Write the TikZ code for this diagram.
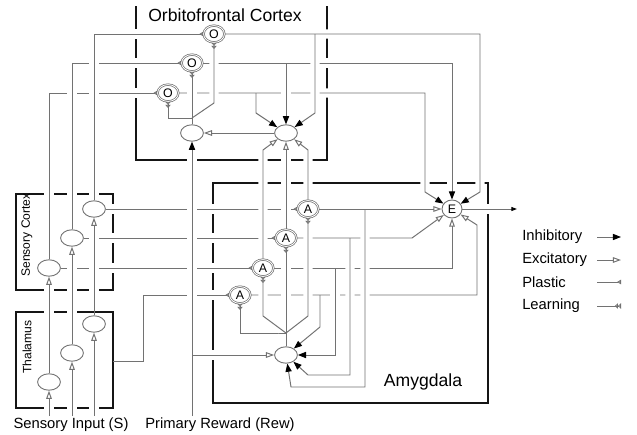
\documentclass[tikz,border=0pt]{standalone}
\usepackage{fontspec}
\setmainfont{Liberation Sans}
\usetikzlibrary{
  positioning,
  arrows.meta,
  shapes.geometric,
  backgrounds
}
\pgfdeclarelayer{wires}
\pgfsetlayers{background,wires,main}
\definecolor{wireGray}{HTML}{727272}
\definecolor{boxBlack}{HTML}{151515}

\begin{document}
\begin{tikzpicture}[
  x=0.025cm, y=-0.025cm,
  every node/.style={font=\fontsize{8.6}{10}\selectfont, align=center, inner sep=0pt},
  neuron/.style={
    ellipse, draw=wireGray, fill=white, line width=0.65pt,
    minimum width=0.57cm, minimum height=0.41cm
  },
  unit/.style={
    ellipse, draw=wireGray, fill=white, double, double distance=0.6pt,
    line width=0.5pt, minimum width=0.52cm, minimum height=0.42cm,
    font=\fontsize{8.8}{9}\selectfont
  },
  outunit/.style={
    ellipse, draw=wireGray, fill=white, line width=0.65pt,
    minimum width=0.5cm, minimum height=0.45cm,
    font=\fontsize{8.8}{9}\selectfont
  },
  region/.style={draw=boxBlack, line width=1.4pt},
  regionlabel/.style={font=\fontsize{12.5}{14}\selectfont},
  sidelabel/.style={font=\fontsize{10.5}{12}\selectfont},
  legendtext/.style={font=\fontsize{10.5}{12}\selectfont, anchor=west},
  wire/.style={
    draw=wireGray, line width=0.7pt,
    preaction={draw=white, line width=6.5pt, arrows=-, shorten <=4pt, shorten >=4pt}
  },
  inh/.style={-{Triangle[length=5.8pt, width=4.4pt, color=black]}},
  exc/.style={-{Triangle[open, length=5.8pt, width=4pt]}},
  plastic/.style={-{Triangle[open, reversed, length=2.8pt, width=3.2pt]}},
  learning/.style={-{Triangle[open, reversed, length=2.2pt, width=3.8pt]
    Triangle[open, reversed, length=2.2pt, width=3.8pt]}},
  outarrow/.style={-{Triangle[length=4pt, width=2.8pt, color=black]}}
]
 \useasboundingbox (0,0) rectangle (637,434);

 % Thalamus and sensory cortex
 \node[neuron] (t1) at (49,382) {};
 \node[neuron] (t2) at (72,353) {};
 \node[neuron] (t3) at (94,324) {};
 \node[neuron] (sc1) at (49,268) {};
 \node[neuron] (sc2) at (72,238) {};
 \node[neuron] (sc3) at (94,209) {};

 % Orbitofrontal cortex
 \node[unit] (o1) at (214,34) {O};
 \node[unit] (o2) at (192,63) {O};
 \node[unit] (o3) at (168,93) {O};
 \node[neuron] (ofc1) at (192,133) {};
 \node[neuron] (ofc2) at (286,133) {};

 % Amygdala
 \node[unit] (a1) at (308,209) {A};
 \node[unit] (a2) at (286,238) {A};
 \node[unit] (a3) at (263,268) {A};
 \node[unit] (a4) at (240,295) {A};
 \node[neuron] (am) at (286,355) {};
 \node[outunit] (e) at (452,209) {E};

 % Region and input labels
 \node[regionlabel] (lofc) at (225,15) {Orbitofrontal Cortex};
 \node[regionlabel] (lamy) at (423,382) {Amygdala};
 \node[rotate=90] (lsc) at (27,235) {Sensory Cortex};
 \node[rotate=90] (lth) at (27,347) {Thalamus};
 \node[sidelabel] (lsin) at (71,425) {Sensory Input (S)};
 \node[sidelabel] (lrew) at (220,425) {Primary Reward (Rew)};

 % Free ends and branch points
 \coordinate (in1) at (49,416);
 \coordinate (in2) at (72,416);
 \coordinate (in3) at (94,416);
 \coordinate (rew) at (192,416);
 \coordinate (thout) at (113,361);
 \coordinate (jo) at (192,118);
 \coordinate (ja) at (286,333);
 \coordinate (jrew) at (192,355);
 \coordinate (jo1) at (315,34);
 \coordinate (jo2) at (286,63);
 \coordinate (jo3) at (256,93);
 \coordinate (ja1) at (365,209);
 \coordinate (ja2) at (350,238);
 \coordinate (ja3) at (335,268);
 \coordinate (ja4) at (320,295);
 \coordinate (eout) at (517,209);

 % Regions
 \begin{pgfonlayer}{background}
  \draw[region] (136,6) -- (136,160) -- (327,160) -- (327,6);
  \draw[region] (16,194) rectangle (113,290);
  \draw[region] (16,312) rectangle (113,408);
  \draw[region] (213,183) rectangle (488,403);
 \end{pgfonlayer}

 \begin{pgfonlayer}{wires}
  % Sensory input to thalamus
  \draw[wire, exc] (in1) -- (t1);
  \draw[wire, exc] (in2) -- (t2);
  \draw[wire, exc] (in3) -- (t3);

  % Sensory cortex to O units
  \draw[wire, plastic] (sc1) |- (o3);
  \draw[wire, plastic] (sc2) |- (o2);
  \draw[wire, plastic] (sc3) |- (o1);

  % Sensory cortex and thalamus to A units
  \draw[wire, plastic] (sc3) -- (a1);
  \draw[wire, plastic] (sc2) -- (a2);
  \draw[wire, plastic] (sc1) -- (a3);
  \draw[wire, plastic] (thout) -- (143,361) |- (a4);

  % Thalamus to sensory cortex
  \draw[wire, exc] (t1) -- (sc1);
  \draw[wire, exc] (t2) -- (sc2);
  \draw[wire, exc] (t3) -- (sc3);

  % O units to E
  \draw[wire, inh] (o3) -- (425,93) -- (425,192) -- (e);
  \draw[wire, inh] (o2) -| (e);
  \draw[wire, inh] (o1) -- (480,34) -- (480,192) -- (e);

  % O units to OFC cell
  \draw[wire, inh] (jo3) -- (256,113) -- (ofc2);
  \draw[wire, inh] (jo2) -- (ofc2);
  \draw[wire, inh] (jo1) -- (315,113) -- (ofc2);

  % OFC learning signal
  \draw[wire] (ofc1) -- (jo);
  \draw[wire, learning] (jo) -- (o2);
  \draw[wire, learning] (jo) -- (214,103) -- (o1);
  \draw[wire, learning] (jo) -- (168,118) -- (o3);
  \draw[wire, exc] (ofc2) -- (ofc1);

  % A units to E
  \draw[wire, exc] (a4) -- (477,295) -- (477,225) -- (e);
  \draw[wire, exc] (a3) -| (e);
  \draw[wire, exc] (a2) -- (412,238) -- (e);
  \draw[wire, exc] (a1) -- (e);

  % A units back to amygdala cell
  \draw[wire, inh] (ja4) -- (320,327) -- (am);
  \draw[wire, inh] (ja3) |- (am);
  \draw[wire, inh] (ja2) -- (350,375) -- (308,375) -- (am);
  \draw[wire, inh] (ja1) -- (365,387) -- (291,387) -- (am);

  % A units up to OFC cell
  \draw[wire, exc] (a3) -- (263,150) -- (ofc2);
  \draw[wire, exc] (a2) -- (ofc2);
  \draw[wire, exc] (a1) -- (308,150) -- (ofc2);

  % Amygdala learning signal
  \draw[wire] (am) -- (ja);
  \draw[wire, learning] (ja) -- (240,333) -- (a4);
  \draw[wire, learning] (ja) -- (263,316) -- (a3);
  \draw[wire, learning] (ja) -- (a2);
  \draw[wire, learning] (ja) -- (308,316) -- (a1);

  % Primary reward
  \draw[wire, inh] (rew) -- (ofc1);
  \draw[wire, exc] (jrew) -- (am);

  % Output
  \draw[wire, outarrow] (e) -- (eout);
 \end{pgfonlayer}

 % Legend
 \node[legendtext] (leg1) at (522,237) {Inhibitory};
 \node[legendtext] (leg2) at (522,260) {Excitatory};
 \node[legendtext] (leg3) at (522,282) {Plastic};
 \node[legendtext] (leg4) at (522,306) {Learning};
 \coordinate (k1a) at (597,237); \coordinate (k1b) at (621,237);
 \coordinate (k2a) at (597,260); \coordinate (k2b) at (621,260);
 \coordinate (k3a) at (597,282); \coordinate (k3b) at (621,282);
 \coordinate (k4a) at (597,306); \coordinate (k4b) at (621,306);
 \draw[wire, inh] (k1a) -- (k1b);
 \draw[wire, exc] (k2a) -- (k2b);
 \draw[wire, plastic] (k3a) -- (k3b);
 \draw[wire, learning] (k4a) -- (k4b);
\end{tikzpicture}
\end{document}
